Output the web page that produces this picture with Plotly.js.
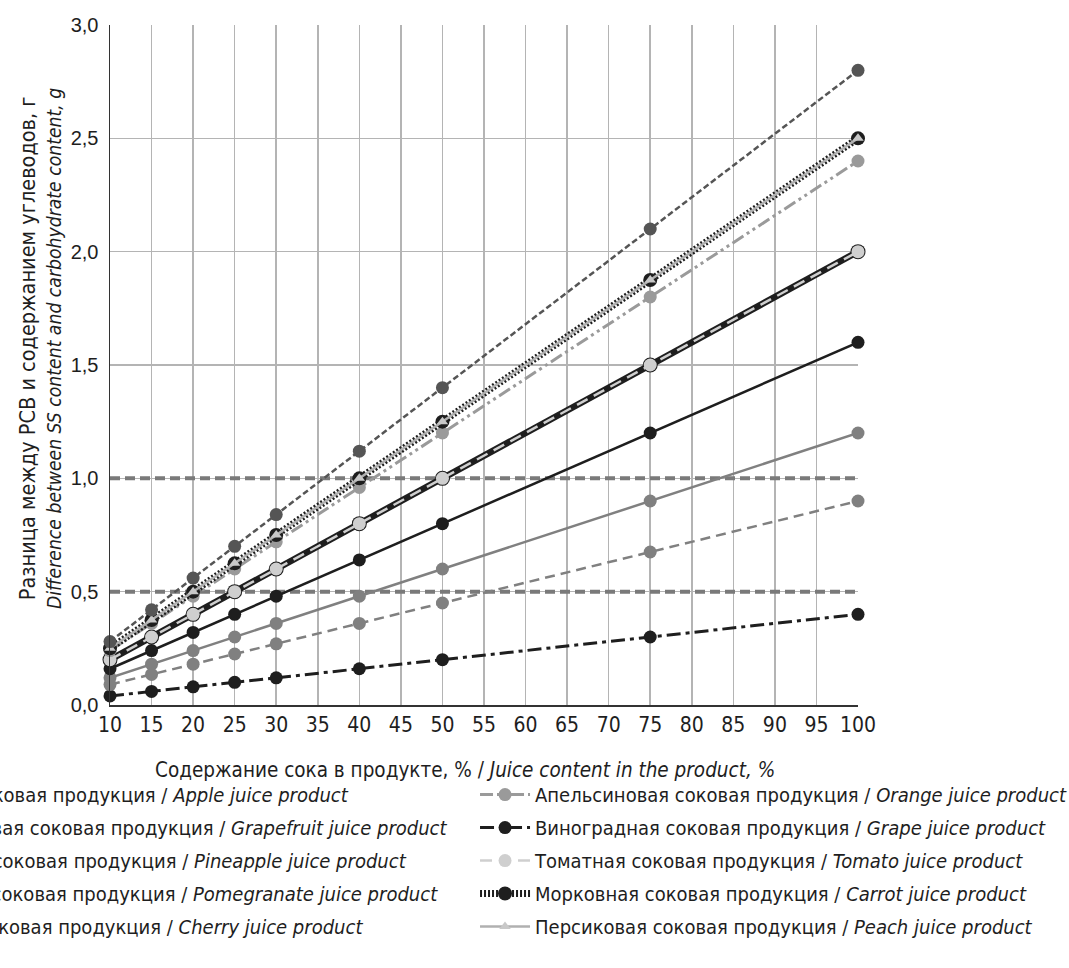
<!DOCTYPE html>
<html><head><meta charset="utf-8">
<script src="https://cdn.plot.ly/plotly-3.0.1.min.js"></script>
<style>body{margin:0;background:#fff}#chart{width:1069px;height:968px}</style>
</head><body><div id="chart"></div>
<script>
// Juice content, % (x values)
const juiceContent = [10, 15, 20, 25, 30, 40, 50, 75, 100];
// Difference between SS content and carbohydrate content, g
const pomegranate = [0.28, 0.42, 0.56, 0.70, 0.84, 1.12, 1.40, 2.10, 2.80];
const carrot      = [0.25, 0.375, 0.50, 0.625, 0.75, 1.00, 1.25, 1.875, 2.50];
const peach       = [0.25, 0.375, 0.50, 0.625, 0.75, 1.00, 1.25, 1.875, 2.50];
const orange      = [0.24, 0.36, 0.48, 0.60, 0.72, 0.96, 1.20, 1.80, 2.40];
const cherry      = [0.20, 0.30, 0.40, 0.50, 0.60, 0.80, 1.00, 1.50, 2.00];
const tomato      = [0.20, 0.30, 0.40, 0.50, 0.60, 0.80, 1.00, 1.50, 2.00];
const apple       = [0.16, 0.24, 0.32, 0.40, 0.48, 0.64, 0.80, 1.20, 1.60];
const pineapple   = [0.12, 0.18, 0.24, 0.30, 0.36, 0.48, 0.60, 0.90, 1.20];
const grapefruit  = [0.09, 0.135, 0.18, 0.225, 0.27, 0.36, 0.45, 0.675, 0.90];
const grape       = [0.04, 0.06, 0.08, 0.10, 0.12, 0.16, 0.20, 0.30, 0.40];
const thresholds  = [0.5, 1.0];
const xRange = [10, 100];
const xTicks = [10,15,20,25,30,35,40,45,50,55,60,65,70,75,80,85,90,95,100];
const yTicks = [0, 0.5, 1.0, 1.5, 2.0, 2.5, 3.0];

const names = {
  apple: 'Яблочная соковая продукция / <i>Apple juice product</i>',
  grapefruit: 'Грейпфрутовая соковая продукция / <i>Grapefruit juice product</i>',
  pineapple: 'Ананасовая соковая продукция / <i>Pineapple juice product</i>',
  pomegranate: 'Гранатовая соковая продукция / <i>Pomegranate juice product</i>',
  cherry: 'Вишневая соковая продукция / <i>Cherry juice product</i>',
  orange: 'Апельсиновая соковая продукция / <i>Orange juice product</i>',
  grape: 'Виноградная соковая продукция / <i>Grape juice product</i>',
  tomato: 'Томатная соковая продукция / <i>Tomato juice product</i>',
  carrot: 'Морковная соковая продукция / <i>Carrot juice product</i>',
  peach: 'Персиковая соковая продукция / <i>Peach juice product</i>'
};
const xTitle = 'Содержание сока в продукте, % / <i>Juice content in the product, %</i>';
const yTitle = '<span style="font-size:21.5px">Разница между РСВ и содержанием углеводов, г</span><br><i><span style="font-size:19.2px">Difference between SS content and carbohydrate content, g</span></i>';

const traces = [];
thresholds.forEach(t => traces.push({
  x: xRange, y: [t, t], mode: 'lines', showlegend: false, hoverinfo: 'skip',
  line: {color: '#7a7a7a', width: 4, dash: '10px,5px'}
}));
function s(key, y, lineOpts, markerOpts, legend, rank) {
  traces.push({
    x: juiceContent, y: y, name: names[key], mode: 'lines+markers',
    line: lineOpts, marker: markerOpts, legend: legend, legendrank: rank,
    legendgroup: key, cliponaxis: false
  });
}
s('grape', grape, {color: '#1e1e1e', width: 3, dash: '14px,5px,4px,5px'}, {color: '#1e1e1e', size: 13}, 'legend2', 2);
s('grapefruit', grapefruit, {color: '#808080', width: 2.5, dash: '10px,6px'}, {color: '#808080', size: 13}, 'legend', 2);
s('pineapple', pineapple, {color: '#808080', width: 2.5}, {color: '#808080', size: 13}, 'legend', 3);
s('apple', apple, {color: '#1e1e1e', width: 2.5}, {color: '#1e1e1e', size: 13}, 'legend', 1);
s('cherry', cherry, {color: '#1e1e1e', width: 6.5}, {color: '#1e1e1e', size: 15}, 'legend', 5);
s('tomato', tomato, {color: '#cfcfcf', width: 2.5, dash: '12px,7px'}, {color: '#cfcfcf', size: 13}, 'legend2', 3);
s('orange', orange, {color: '#9a9a9a', width: 3, dash: '13px,4px,3px,4px,3px,4px'}, {color: '#9a9a9a', size: 13}, 'legend2', 1);
s('carrot', carrot, {color: '#1e1e1e', width: 7, dash: '2px,2px'}, {color: '#1e1e1e', size: 14}, 'legend2', 4);
s('peach', peach, {color: '#b0b0b0', width: 2.5}, {color: '#c8c8c8', size: 10, symbol: 'triangle-up'}, 'legend2', 5);
s('pomegranate', pomegranate, {color: '#555555', width: 2.5, dash: '6px,3px'}, {color: '#555555', size: 13}, 'legend', 4);

const narrow = 'Liberation Sans Narrow, DejaVu Sans Condensed, Arial Narrow, sans-serif';
const legendCommon = {
  font: {family: narrow, size: 20, color: '#1e1e1e'},
  bgcolor: 'rgba(0,0,0,0)', borderwidth: 0, orientation: 'v',
  traceorder: 'grouped', tracegroupgap: 4, itemwidth: 50,
  yanchor: 'top', xanchor: 'left', y: -0.103
};

const layout = {
  width: 1069, height: 968,
  paper_bgcolor: '#fff', plot_bgcolor: '#fff',
  separators: ', ',
  margin: {l: 110, r: 211, t: 25, b: 263, autoexpand: false},
  font: {family: narrow, size: 18, color: '#1e1e1e'},
  xaxis: {
    range: xRange, tickvals: xTicks, ticktext: xTicks.map(String),
    showgrid: true, gridcolor: '#b4b4b4', gridwidth: 1.5,
    showline: true, linecolor: '#333', linewidth: 1.5,
    ticks: '', zeroline: false,
    tickfont: {family: narrow, size: 21, color: '#1e1e1e'}
  },
  yaxis: {
    range: [0, 3], tickvals: yTicks, tickformat: '.1f',
    showgrid: true, gridcolor: '#b4b4b4', gridwidth: 1.5,
    showline: true, linecolor: '#333', linewidth: 1.5,
    ticks: '', zeroline: false, ticklabelstandoff: 6,
    tickfont: {family: 'Liberation Sans, Arial, sans-serif', size: 20, color: '#1e1e1e'}
  },
  annotations: [
    {text: xTitle, xref: 'paper', yref: 'paper', x: 0.4746, y: -0.0956,
     xanchor: 'center', yanchor: 'middle', showarrow: false,
     font: {family: narrow, size: 20.5, color: '#1e1e1e'}},
    {text: yTitle, xref: 'paper', yref: 'paper', x: -0.0936, y: 0.525,
     xanchor: 'center', yanchor: 'middle', showarrow: false, textangle: -90,
     font: {family: narrow, size: 20, color: '#1e1e1e'}}
  ],
  legend: Object.assign({}, legendCommon, {x: -0.3934}),
  legend2: Object.assign({}, legendCommon, {x: 0.488}),
  showlegend: true
};

Plotly.newPlot('chart', traces, layout, {displayModeBar: false, staticPlot: true});
</script></body></html>
